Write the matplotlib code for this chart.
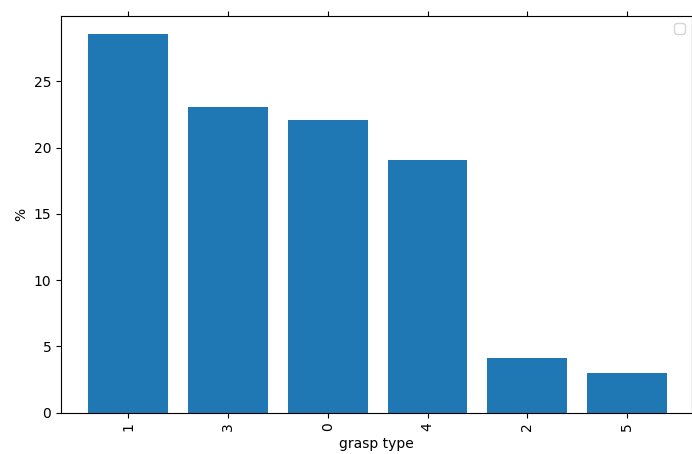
import matplotlib
matplotlib.use("Agg")
import matplotlib.pyplot as plt

# grasp type distribution (%)
grasp_types = ["1", "3", "0", "4", "2", "5"]
percent = [28.6, 23.1, 22.1, 19.1, 4.1, 3.0]

fig, ax = plt.subplots(figsize=(6.92, 4.54), dpi=100)
fig.subplots_adjust(left=61 / 692, right=692 / 692, top=0.9654, bottom=0.091)

x = range(len(grasp_types))
ax.bar(x, percent, color="#1f77b4")
ax.set_xticks(list(x))
ax.set_xticklabels(grasp_types, rotation=90)
ax.tick_params(axis="x", top=True)
ax.set_xlim(-0.674, 5.65)
ax.set_ylim(0, 29.95)
ax.set_xlabel("grasp type")
ax.set_ylabel("%")
ax.legend(handles=[], loc="upper right")

plt.savefig("out.png", dpi=100)
